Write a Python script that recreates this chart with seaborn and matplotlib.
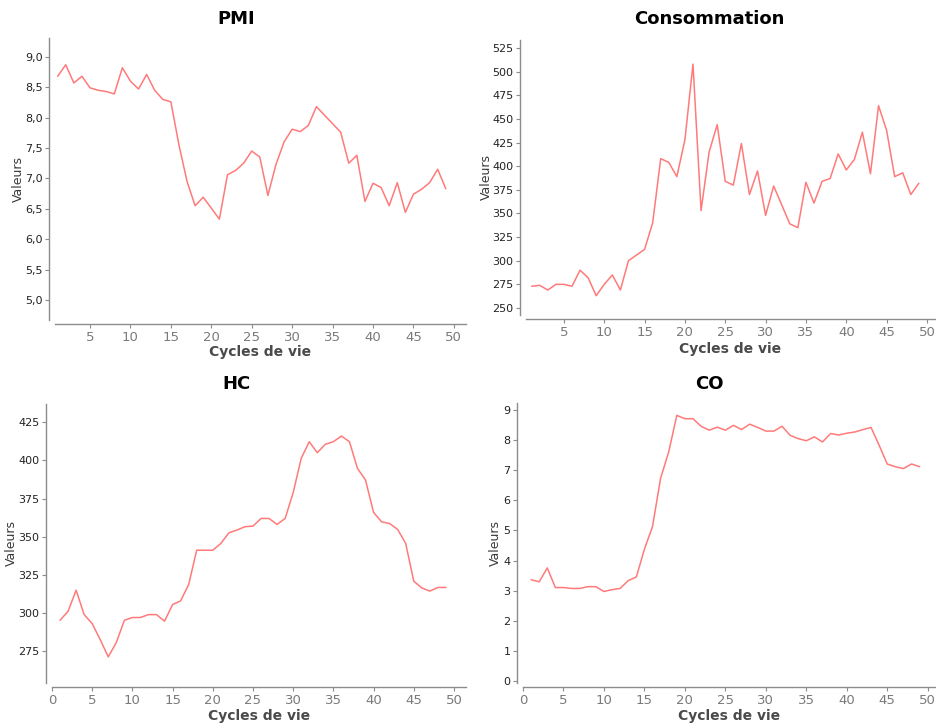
import numpy as np
import pandas as pd
import matplotlib
matplotlib.use("Agg")
import matplotlib.pyplot as plt
from matplotlib.ticker import FuncFormatter
import seaborn as sns

sns.set_style("ticks")
plt.rcParams['font.family'] = ['DejaVu Sans']

## Data
cycles = list(range(1, 50))

pmi = [8.68, 8.87, 8.57, 8.68, 8.49, 8.45, 8.43, 8.39, 8.82, 8.60,
       8.47, 8.71, 8.45, 8.30, 8.26, 7.55, 6.95, 6.55, 6.69, 6.51,
       6.33, 7.06, 7.13, 7.25, 7.45, 7.35, 6.72, 7.23, 7.60, 7.81,
       7.77, 7.87, 8.18, 8.04, 7.90, 7.76, 7.25, 7.38, 6.62, 6.92,
       6.85, 6.55, 6.93, 6.44, 6.74, 6.82, 6.93, 7.15, 6.83]

consommation = [273, 274, 269, 275, 275, 273, 290, 282, 263, 275,
                285, 269, 300, 306, 312, 340, 408, 404, 389, 428,
                508, 353, 415, 444, 384, 380, 424, 370, 395, 348,
                379, 359, 339, 335, 383, 361, 384, 387, 413, 396,
                407, 436, 392, 464, 438, 389, 393, 370, 382]

hc = [295.3, 301.2, 315.0, 299.0, 293.1, 282.6, 271.3, 280.7, 295.3, 297.1,
      297.1, 299.0, 299.0, 294.7, 305.6, 308.0, 318.7, 341.2, 341.2, 341.2,
      345.6, 352.6, 354.4, 356.6, 357.0, 362.0, 362.0, 358.1, 362.0, 378.9,
      401.4, 412.3, 405.1, 410.6, 412.3, 416.0, 412.3, 394.8, 387.2, 366.0,
      359.8, 358.7, 354.8, 345.6, 320.9, 316.5, 314.4, 316.8, 316.8]

co = [3.37, 3.30, 3.76, 3.11, 3.11, 3.08, 3.08, 3.14, 3.14, 2.98,
      3.04, 3.08, 3.34, 3.46, 4.38, 5.13, 6.73, 7.60, 8.81, 8.70,
      8.70, 8.45, 8.32, 8.42, 8.32, 8.48, 8.34, 8.52, 8.41, 8.29,
      8.29, 8.45, 8.15, 8.04, 7.97, 8.10, 7.93, 8.21, 8.16, 8.22,
      8.26, 8.34, 8.41, 7.82, 7.20, 7.11, 7.05, 7.20, 7.11]

line_color = "#ff7a7a"
axis_grey = "#8c8c8c"

W, H = 936, 725
fig = plt.figure(figsize=(W / 100, H / 100), dpi=100)


def px_axes(x0, y0, x1, y1):
    # axes box given in pixel coords of the 936x725 image (y down)
    return fig.add_axes([x0 / W, 1 - y1 / H, (x1 - x0) / W, (y1 - y0) / H])


panels = [
    # title, values, box, ylim, yticks, xlim, title pos, ylabel x, xlabel y
    ("PMI", pmi, (55, 38, 466, 320), (4.67, 9.31), np.arange(5.0, 9.01, 0.5),
     (0.67, 51.5), (236, 19), -0.09, -0.113),
    ("Consommation", consommation, (526, 40, 935, 315), (242.6, 533.5),
     np.arange(250, 526, 25), (0.3, 51.0), (709, 19), -0.098, -0.124),
    ("HC", hc, (52, 404, 466, 683), (254.2, 437), np.arange(275, 426, 25),
     (0.0, 51.5), (236, 384), -0.097, -0.118),
    ("CO", co, (523, 403, 935, 683), (-0.05, 9.22), np.arange(0, 10, 1),
     (0.0, 50.9), (709, 384), -0.068, -0.118),
]

for title, vals, box, ylim, yticks, xlim, tpos, ylx, xly in panels:
    ax = px_axes(*box)
    df = pd.DataFrame({"Cycles de vie": cycles, "Valeurs": vals})
    sns.lineplot(data=df, x="Cycles de vie", y="Valeurs", ax=ax,
                 color=line_color, linewidth=1.1)
    ax.set_xticks(range(0, 55, 5))
    ax.set_yticks(yticks)
    ax.set_xlim(*xlim)
    ax.set_ylim(*ylim)
    if title == "PMI":
        ax.yaxis.set_major_formatter(
            FuncFormatter(lambda v, p: f"{v:.1f}".replace(".", ",")))

    for s in ("top", "right"):
        ax.spines[s].set_visible(False)
    ax.spines["left"].set_position(("outward", 4))
    ax.spines["bottom"].set_position(("outward", 3))
    for s in ("left", "bottom"):
        ax.spines[s].set_color(axis_grey)
        ax.spines[s].set_linewidth(1.0)

    ax.tick_params(axis="both", direction="out", length=3, width=0.8,
                   color=axis_grey, bottom=True, left=True)
    ax.tick_params(axis="y", labelsize=8, labelcolor="#222222", pad=2)
    ax.tick_params(axis="x", labelsize=9.5, labelcolor="#7a7a7a", pad=2)

    ax.set_xlabel("Cycles de vie", fontsize=10, color="#4a4a4a",
                  fontweight="bold")
    ax.set_ylabel("Valeurs", fontsize=9, color="#3a3a3a")
    ax.xaxis.set_label_coords(0.5, xly)
    ax.xaxis.label.set_va("center")
    ax.yaxis.set_label_coords(ylx, 0.5)
    ax.yaxis.label.set_va("center")

    fig.text(tpos[0] / W, 1 - tpos[1] / H, title, ha="center", va="center",
             fontsize=13, fontweight="bold", color="black")

fig.savefig("out.png", dpi=100)
